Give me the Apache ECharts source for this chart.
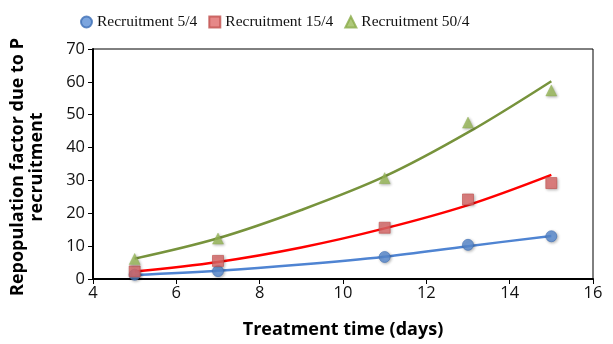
<!DOCTYPE html>
<html>
<head>
<meta charset="utf-8">
<script src="https://cdn.jsdelivr.net/npm/echarts@6/dist/echarts.min.js"></script>
<style>
  html, body { margin: 0; padding: 0; background: #fff; }
  #chart { width: 613px; height: 344px; }
</style>
</head>
<body>
<div id="chart"></div>
<script>
// Measured repopulation factors at each treatment day
const days = [5, 7, 11, 13, 15];
const rec5 = [1.3, 2.4, 6.7, 10.4, 13.0];
const rec15 = [2.3, 5.5, 15.6, 24.2, 29.2];
const rec50 = [6.1, 12.3, 30.7, 47.6, 57.4];

// Fitted trend curves, sampled along the treatment range
const trendDays = [5, 7, 9, 11, 13, 15];
const trend5 = [1.2, 2.5, 4.4, 6.8, 10.0, 13.1];
const trend15 = [2.3, 5.2, 9.6, 15.4, 22.5, 31.7];
const trend50 = [6.2, 12.4, 21.0, 31.2, 44.6, 60.2];

const seriesNames = ['Recruitment 5/4', 'Recruitment 15/4', 'Recruitment 50/4'];
const xTicks = { min: 4, max: 16, interval: 2 };
const yTicks = { min: 0, max: 70, interval: 10 };

const pairs = (xs, ys) => xs.map((x, i) => [x, ys[i]]);

const chart = echarts.init(document.getElementById('chart'), null, { renderer: 'canvas' });

const markerShadow = { shadowColor: 'rgba(0,0,0,0.35)', shadowBlur: 3, shadowOffsetX: 1, shadowOffsetY: 1 };

function trendSeries(xs, ys, color) {
  return {
    type: 'line',
    data: pairs(xs, ys),
    smooth: 0.35,
    showSymbol: false,
    symbol: 'none',
    silent: true,
    z: 2,
    lineStyle: { color: color, width: 2.5 }
  };
}

chart.setOption({
  animation: false,
  backgroundColor: '#ffffff',
  legend: {
    top: 9,
    left: 75,
    itemWidth: 11,
    itemHeight: 11,
    itemGap: 11,
    textStyle: { fontFamily: 'Liberation Serif', fontSize: 15.5, color: '#111' },
    data: seriesNames
  },
  grid: {
    left: 91, right: 20, top: 49, bottom: 62,
    show: true, borderColor: '#000', borderWidth: 1
  },
  xAxis: {
    type: 'value',
    min: xTicks.min, max: xTicks.max, interval: xTicks.interval,
    name: 'Treatment time (days)',
    nameLocation: 'middle',
    nameGap: 42,
    nameTextStyle: { fontFamily: 'Open Sans', fontWeight: 'bold', fontSize: 18, color: '#000' },
    axisLine: { show: true, lineStyle: { color: '#000', width: 2 } },
    axisTick: { show: true, length: 5, lineStyle: { color: '#000', width: 1 } },
    axisLabel: { fontFamily: 'Open Sans', fontSize: 16.5, color: '#111', margin: 6 },
    splitLine: { show: false }
  },
  yAxis: {
    type: 'value',
    min: yTicks.min, max: yTicks.max, interval: yTicks.interval,
    name: 'Repopulation factor due to P\nrecruitment',
    nameLocation: 'middle',
    nameRotate: 90,
    nameGap: 47,
    nameTextStyle: {
      fontFamily: 'Open Sans', fontWeight: 'bold', fontSize: 18, color: '#000',
      lineHeight: 19, align: 'center', padding: [0, 6, 0, 0]
    },
    axisLine: { show: true, lineStyle: { color: '#000', width: 2 } },
    axisTick: { show: true, length: 5, lineStyle: { color: '#000', width: 1 } },
    axisLabel: { fontFamily: 'Open Sans', fontSize: 16.5, color: '#111', margin: 8 },
    splitLine: { show: false }
  },
  series: [
    trendSeries(trendDays, trend5, '#4f84d2'),
    trendSeries(trendDays, trend15, '#ff0000'),
    trendSeries(trendDays, trend50, '#77933c'),
    {
      name: seriesNames[0],
      type: 'scatter',
      data: pairs(days, rec5),
      symbol: 'circle',
      symbolSize: 11,
      z: 5,
      itemStyle: Object.assign({ color: '#5b8ed6', borderColor: '#3f6fb5', borderWidth: 0.8 }, markerShadow)
    },
    {
      name: seriesNames[1],
      type: 'scatter',
      data: pairs(days, rec15),
      symbol: 'rect',
      symbolSize: 11,
      z: 5,
      itemStyle: Object.assign({ color: '#e06a6a', borderColor: '#c0504d', borderWidth: 0.8 }, markerShadow)
    },
    {
      name: seriesNames[2],
      type: 'scatter',
      data: pairs(days, rec50),
      symbol: 'triangle',
      symbolSize: 11,
      z: 5,
      itemStyle: Object.assign({ color: '#9bbb59', borderColor: '#8aab4a', borderWidth: 0.5 }, markerShadow)
    }
  ]
});
</script>
</body>
</html>
